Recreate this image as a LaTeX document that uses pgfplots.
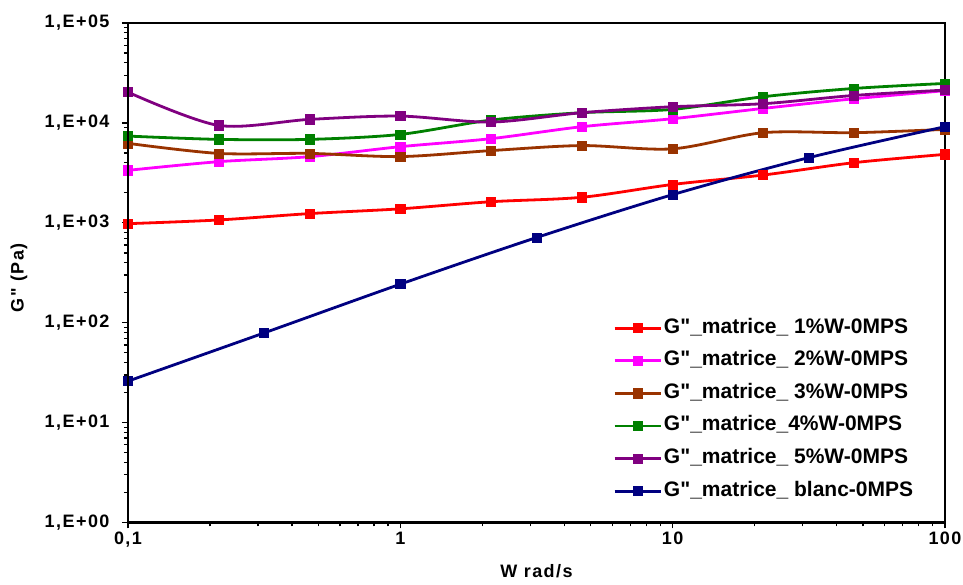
\documentclass[border=0pt]{standalone}
\usepackage{fontspec}
\setmainfont{Liberation Sans}[Ligatures=TeXOff]
\newfontfamily\spaced{Liberation Sans}[LetterSpace=8,Ligatures=TeXOff]
\usepackage{pgfplots}
\pgfplotsset{compat=1.18}
\definecolor{cRed}{HTML}{FF0000}
\definecolor{cMag}{HTML}{FF00FF}
\definecolor{cBrown}{HTML}{993300}
\definecolor{cGreen}{HTML}{008000}
\definecolor{cPurple}{HTML}{800080}
\definecolor{cNavy}{HTML}{000080}
\begin{document}
\begin{tikzpicture}
\begin{axis}[
  at={(0pt,0pt)}, anchor=south west,
  scale only axis, width=817pt, height=499.5pt,
  xmode=log, ymode=log,
  xmin=0.1, xmax=100, ymin=1, ymax=1e5,
  xtick={0.1,1,10,100}, xticklabels={{0,1},1,10,100},
  ytick={1,10,100,1000,10000,100000},
  yticklabels={{1,E+00},{1,E+01},{1,E+02},{1,E+03},{1,E+04},{1,E+05}},
  tick pos=left, tick align=outside,
  major tick length=6pt, minor tick length=4pt,
  every tick/.style={black, line width=1.3pt},
  axis line style={line width=1.2pt},
  ticklabel style={font=\spaced\bfseries\fontsize{18}{20}\selectfont},
  yticklabel style={xshift=-9pt},
  xlabel={W rad/s}, ylabel={G" (Pa)},
  label style={font=\spaced\bfseries\fontsize{18}{20}\selectfont},
  xlabel style={at={(axis description cs:0.5,-0.097)}, anchor=center},
  ylabel style={at={(axis description cs:-0.1334,0.49)}, anchor=center},
  every axis plot/.append style={line width=2.8pt, mark=square*, mark size=4.6pt, smooth, tension=0.5, mark options={solid, line width=0.6pt}},
  legend style={at={(axis description cs:0.5936,0.4114)}, anchor=north west, draw=none, fill=none, inner sep=0pt,
    font=\bfseries\fontsize{21}{23}\selectfont, row sep=10.6pt,
    nodes={inner sep=2pt, text height=14pt, text depth=4pt}},
  legend cell align=left,
  legend image code/.code={\draw[mark repeat=2,mark phase=2,#1,line width=2.8pt] plot coordinates {(0pt,0pt) (23pt,0pt) (46pt,0pt)};},
  clip=false,
  after end axis/.code={\draw[line width=2.2pt, line cap=rect] (rel axis cs:0,1) -- (rel axis cs:0,0) -- (rel axis cs:1,0);},
]
\addplot[color=cRed] coordinates {(0.1,980) (0.215,1067) (0.464,1236) (1,1380) (2.15,1625) (4.64,1800) (10,2420) (21.5,3006) (46.4,4000) (100,4840)};
\addlegendentry{G"\_matrice\_ 1\%W-0MPS}
\addplot[color=cMag] coordinates {(0.1,3350) (0.215,4090) (0.464,4590) (1,5780) (2.15,6950) (4.64,9160) (10,11010) (21.5,13960) (46.4,17450) (100,21000)};
\addlegendentry{G"\_matrice\_ 2\%W-0MPS}
\addplot[color=cBrown] coordinates {(0.1,6240) (0.215,4950) (0.464,4950) (1,4600) (2.15,5280) (4.64,5930) (10,5500) (21.5,7980) (46.4,7980) (100,8610)};
\addlegendentry{G"\_matrice\_ 3\%W-0MPS}
\addplot[color=cGreen] coordinates {(0.1,7380) (0.215,6840) (0.464,6840) (1,7670) (2.15,10670) (4.64,12650) (10,13650) (21.5,18280) (46.4,22130) (100,24830)};
\addlegendentry{G"\_matrice\_4\%W-0MPS}
\addplot[color=cPurple] coordinates {(0.1,20300) (0.215,9440) (0.464,10840) (1,11700) (2.15,10190) (4.64,12650) (10,14520) (21.5,15560) (46.4,18840) (100,21290)};
\addlegendentry{G"\_matrice\_ 5\%W-0MPS}
\addplot[color=cNavy] coordinates {(0.1,26) (0.316,79) (1,243) (3.16,711) (10,1914) (31.6,4487) (100,9160)};
\addlegendentry{G"\_matrice\_ blanc-0MPS}
\end{axis}
\pgfresetboundingbox
\path[use as bounding box] (-128pt,-62.5pt) rectangle (835pt,522.5pt);
\end{tikzpicture}
\end{document}
